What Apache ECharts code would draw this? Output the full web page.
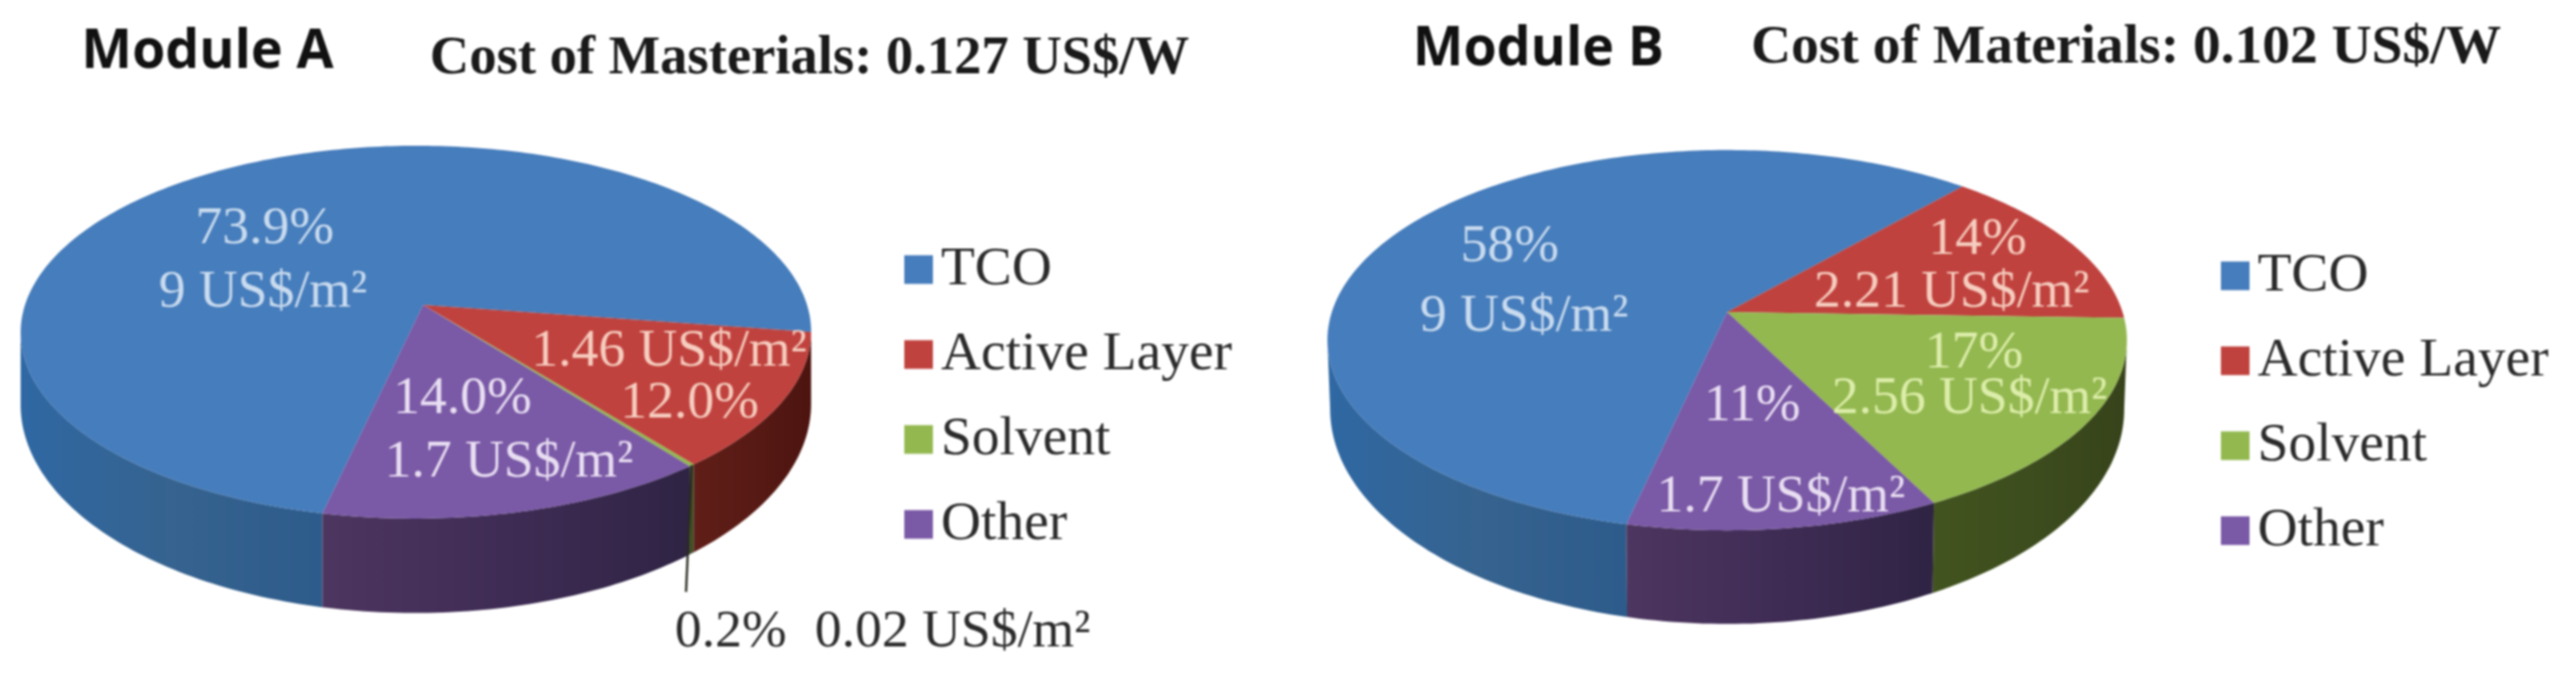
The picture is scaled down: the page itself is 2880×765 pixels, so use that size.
<!DOCTYPE html>
<html>
<head>
<meta charset="utf-8">
<style>
	html, body { margin: 0; background: #fff; }
	#chart { width: 2880px; height: 765px; filter: blur(1.2px); }
</style>
<script src="https://cdn.jsdelivr.net/npm/echarts@6/dist/echarts.min.js"></script>
</head>
<body>
<div id="chart"></div>
<script>
	// values
	var categories = ['TCO', 'Active Layer', 'Solvent', 'Other']
	var shareA = [73.9, 12.0, 0.2, 14.0]
	var costA = [9, 1.46, 0.02, 1.7]
	var shareB = [58, 14, 17, 11]
	var costB = [9, 2.21, 2.56, 1.7]
	var titleA = 'Module A'
	var titleB = 'Module B'
	var subtitleA = 'Cost of Masterials: 0.127 US$/W'
	var subtitleB = 'Cost of Materials: 0.102 US$/W'

	var topColors = ['#467dbc', '#c0423e', '#93b850', '#7a59a6']
	var sideColors = [
		['#2f68a3', '#36638f', '#2d5b8b'],
		['#601e18', '#581a15', '#4c1410'],
		['#42541f', '#3d4d1e', '#37431b'],
		['#4d3660', '#3f2c55', '#2f2444']
	]
	var labelColors = ['#c9dbef', '#f6cdbf', '#dcedaa', '#e8def2']
	var unit = ' US$/m\u00b2'
	var serif = '"Liberation Serif", serif'

	// cx,cy is the pie apex, the rim is a circle seen in perspective
	var pieA = { cx: 473, cy: 341, r: 437, s: 204, k: 0.146, m: 0.018, rb: 437, cyb: 418, sb: 228.5, start: 102.7 }
	var pieB = { cx: 1931, cy: 349, r: 442, s: 208, k: 0.148, m: 0, rb: 439, cyb: 422, sb: 235, start: 102.6 }

	function rimTop(p, deg) {
		var u = Math.cos(deg * Math.PI / 180), v = Math.sin(deg * Math.PI / 180)
		var w = 1 - p.k * v + p.m * u
		return [p.cx + p.r * u / w, p.cy + p.s * v / w]
	}
	function rimBottom(p, deg) {
		var u = Math.cos(deg * Math.PI / 180), v = Math.sin(deg * Math.PI / 180)
		var w = 1 - p.k * v + p.m * u
		return [p.cx + p.rb * u / w, p.cyb + p.sb * v / w]
	}

	// side wall, only the part facing the viewer
	function sidePolygon(p, a0, a1, colors) {
		var pts = [], back = []
		for (var a = a0; a < a1; a += 1) {
			pts.push(rimTop(p, a))
			back.unshift(rimBottom(p, a))
		}
		pts.push(rimTop(p, a1))
		back.unshift(rimBottom(p, a1))
		// the slice runs right to left as the angle grows
		return {
			type: 'polygon',
			shape: { points: pts.concat(back) },
			style: { fill: new echarts.graphic.LinearGradient(0, 0, 1, 0, [
				{ offset: 0, color: colors[0] },
				{ offset: 0.5, color: colors[1] },
				{ offset: 1, color: colors[2] }
			]) }
		}
	}

	function sliceSeries(p, share, i) {
		var total = share.reduce(function (s, v) { return s + v }, 0)
		var before = share.slice(0, i).reduce(function (s, v) { return s + v }, 0)
		return {
			type: 'custom',
			name: categories[i],
			coordinateSystem: 'none',
			itemStyle: { color: topColors[i] },
			silent: true,
			animation: false,
			data: [[before / total, share[i] / total]],
			renderItem: function (params, api) {
				var a0 = p.start + api.value(0) * 360
				var a1 = a0 + api.value(1) * 360
				var edge = Math.asin(p.k) * 180 / Math.PI
				var children = []
				// the wall spans 'edge' .. 180-edge, also look one turn further
				;[0, 360].forEach(function (turn) {
					var lo = Math.max(a0 - turn, edge), hi = Math.min(a1 - turn, 180 - edge)
					if (hi > lo) children.push(sidePolygon(p, lo, hi, sideColors[i]))
				})
				var pts = [[p.cx, p.cy]]
				for (var a = a0; a < a1; a += 1) pts.push(rimTop(p, a))
				pts.push(rimTop(p, a1))
				children.push({ type: 'polygon', shape: { points: pts }, style: { fill: topColors[i] } })
				return { type: 'group', children: children }
			}
		}
	}

	function text(str, x, y, size, color, family, weight) {
		return {
			type: 'text',
			x: x,
			y: y,
			z: 10,
			silent: true,
			style: {
				text: str,
				x: 0,
				y: 0,
				align: 'center',
				verticalAlign: 'middle',
				fill: color,
				font: (weight || 'normal') + ' ' + size + 'px ' + family
			}
		}
	}

	function legend(left, top) {
		return {
			data: categories,
			orient: 'vertical',
			left: left,
			top: top,
			icon: 'rect',
			itemWidth: 32,
			itemHeight: 32,
			itemGap: 30,
			selectedMode: false,
			textStyle: { fontFamily: serif, fontSize: 62, color: '#2b2b2b', lineHeight: 65, padding: [0, 0, 0, 4] }
		}
	}

	var series = []
	categories.forEach(function (c, i) { series.push(sliceSeries(pieA, shareA, i)) })
	categories.forEach(function (c, i) { series.push(sliceSeries(pieB, shareB, i)) })

	var size = 60
	var totalA = shareA.reduce(function (s, v) { return s + v }, 0)
	var leaderStart = rimTop(pieA, pieA.start + (shareA[0] + shareA[1] + shareA[2] / 2) / totalA * 360 - 360)
	var graphics = [
		text(titleA, 232, 59, 60, '#111', '"Open Sans", sans-serif', 'bold'),
		text(subtitleA, 905, 66, 61, '#1a1a1a', serif, 'bold'),
		text(titleB, 1720, 56, 60, '#111', '"Open Sans", sans-serif', 'bold'),
		text(subtitleB, 2377, 54, 62, '#1a1a1a', serif, 'bold'),

		text(shareA[0].toFixed(1) + '%', 296, 256, size, labelColors[0], serif),
		text(costA[0] + unit, 294, 327, size, labelColors[0], serif),
		text(costA[1] + unit, 748, 393, size, labelColors[1], serif),
		text(shareA[1].toFixed(1) + '%', 771, 451, size, labelColors[1], serif),
		text(shareA[3].toFixed(1) + '%', 517, 446, size, labelColors[3], serif),
		text(costA[3] + unit, 569, 517, size, labelColors[3], serif),
		text(shareA[2].toFixed(1) + '%', 817, 707, size, '#2b2b2b', serif),
		text(costA[2] + unit, 1065, 707, size, '#2b2b2b', serif),

		text(shareB[0] + '%', 1688, 276, size, labelColors[0], serif),
		text(costB[0] + unit, 1704, 354, size, labelColors[0], serif),
		text(shareB[1] + '%', 2211, 268, size, labelColors[1], serif),
		text(costB[1] + unit, 2182, 327, size, labelColors[1], serif),
		text(shareB[2] + '%', 2207, 395, size, labelColors[2], serif),
		text(costB[2] + unit, 2202, 446, size, labelColors[2], serif),
		text(shareB[3] + '%', 1959, 454, size, labelColors[3], serif),
		text(costB[3] + unit, 1991, 556, size, labelColors[3], serif),

		{
			type: 'line',
			z: 9,
			silent: true,
			shape: { x1: leaderStart[0], y1: leaderStart[1], x2: 767, y2: 662 },
			style: { stroke: '#2a2a22', lineWidth: 2.5 }
		}
	]

	var chart = echarts.init(document.getElementById('chart'))
	chart.setOption({
		backgroundColor: '#ffffff',
		animation: false,
		legend: [legend(1006, 264), legend(2478, 271)],
		graphic: graphics,
		series: series
	})
</script>
</body>
</html>
